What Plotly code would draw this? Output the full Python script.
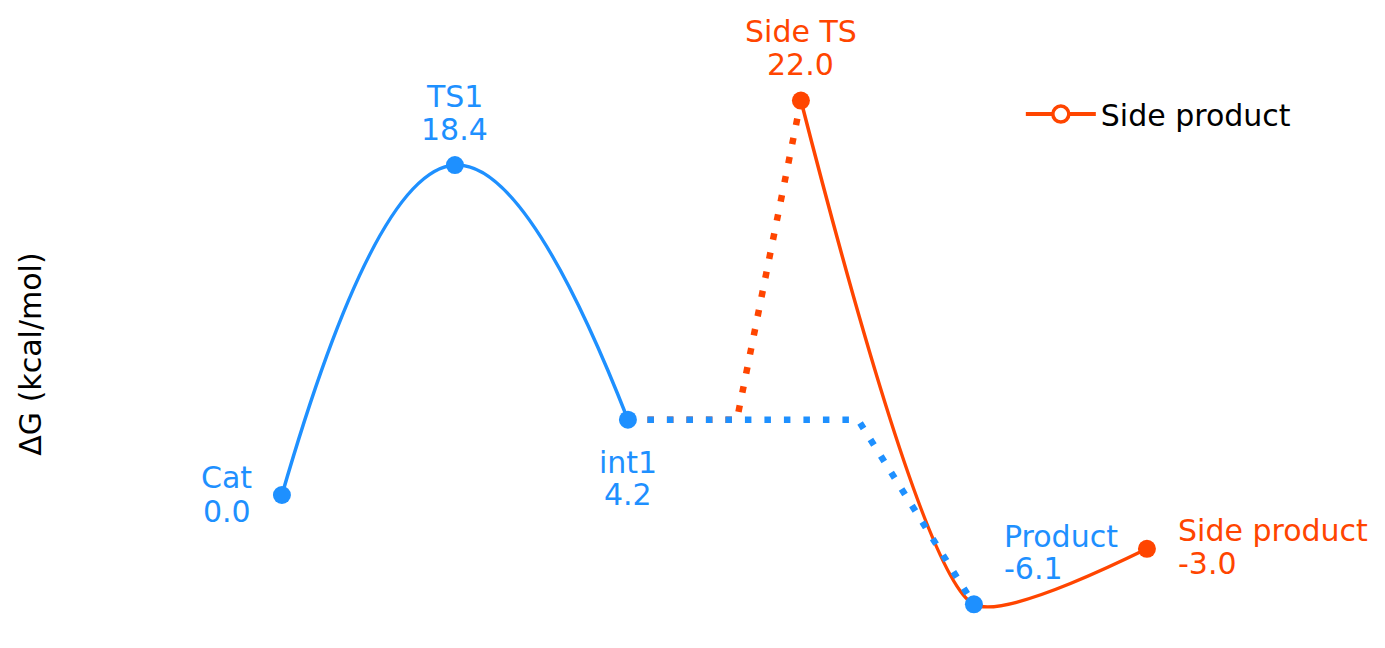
import plotly.graph_objects as go

BLUE = "#1E90FF"
ORANGE = "#FF4500"
FONT = "DejaVu Sans"

# main pathway (blue)
main_names = ["Cat", "TS1", "int1", "Product"]
main_x = [0, 1, 2, 4]
main_g = [0.0, 18.4, 4.2, -6.1]

# side pathway (orange)
side_names = ["Side TS", "Side product"]
side_x = [3, 5]
side_g = [22.0, -3.0]

# connecting path knots
main_curve_x = [0, 1, 2]
main_curve_g = [0.0, 18.4, 4.2]
main_dot_x = [2, 3.33, 4]
main_dot_g = [4.2, 4.2, -6.1]
side_dot_x = [2, 2.63, 3]
side_dot_g = [4.2, 4.2, 22.0]
side_curve_x = [3, 4, 5]
side_curve_g = [22.0, -6.1, -3.0]

fig = go.Figure()

fig.add_trace(go.Scatter(x=main_curve_x, y=main_curve_g, mode="lines",
                         line=dict(color=BLUE, width=3.5, shape="spline", smoothing=1.3),
                         showlegend=False, hoverinfo="skip"))
fig.add_trace(go.Scatter(x=side_dot_x, y=side_dot_g, mode="lines",
                         line=dict(color=ORANGE, width=6.5, dash="6.5px,13px"),
                         showlegend=False, hoverinfo="skip"))
fig.add_trace(go.Scatter(x=side_curve_x, y=side_curve_g, mode="lines",
                         line=dict(color=ORANGE, width=3.5, shape="spline", smoothing=0.6),
                         showlegend=False, hoverinfo="skip"))
fig.add_trace(go.Scatter(x=main_dot_x, y=main_dot_g, mode="lines",
                         line=dict(color=BLUE, width=6.5, dash="6.5px,13px"),
                         showlegend=False, hoverinfo="skip"))
fig.add_trace(go.Scatter(x=side_x, y=side_g, mode="markers",
                         marker=dict(color=ORANGE, size=18),
                         showlegend=False))
fig.add_trace(go.Scatter(x=main_x, y=main_g, mode="markers",
                         marker=dict(color=BLUE, size=18),
                         showlegend=False))
# legend entry
fig.add_trace(go.Scatter(x=[None], y=[None], mode="lines+markers", name="Side product",
                         line=dict(color=ORANGE, width=4),
                         marker=dict(color="white", size=16, line=dict(color=ORANGE, width=3.5))))

# labels: (name, value) placement
label_cfg = {
    "Cat": dict(xanchor="center", dx=-55, dy1=18, dy2=-16),
    "TS1": dict(xanchor="center", dx=0, dy1=69, dy2=36),
    "int1": dict(xanchor="center", dx=0, dy1=-43, dy2=-75),
    "Product": dict(xanchor="left", dx=28, dy1=68, dy2=36),
    "Side TS": dict(xanchor="center", dx=0, dy1=69, dy2=36),
    "Side product": dict(xanchor="left", dx=29, dy1=18, dy2=-15),
}

def add_label(name, x, g, color):
    c = label_cfg[name]
    fig.add_annotation(x=x, y=g, text=name, showarrow=False, xanchor=c["xanchor"],
                       yanchor="middle", xshift=c["dx"], yshift=c["dy1"],
                       font=dict(color=color, size=30, family=FONT))
    fig.add_annotation(x=x, y=g, text=f"{g:.1f}", showarrow=False, xanchor=c["xanchor"],
                       yanchor="middle", xshift=c["dx"], yshift=c["dy2"],
                       font=dict(color=color, size=30, family=FONT))

for n, x, g in zip(main_names, main_x, main_g):
    add_label(n, x, g, BLUE)
for n, x, g in zip(side_names, side_x, side_g):
    add_label(n, x, g, ORANGE)

fig.update_layout(
    width=1385, height=648,
    margin=dict(l=44, r=30, t=52, b=8),
    paper_bgcolor="white", plot_bgcolor="white",
    font=dict(family=FONT, size=30, color="black"),
    legend=dict(x=0.739, y=0.908, xanchor="left", yanchor="middle", itemwidth=70,
                bgcolor="rgba(0,0,0,0)", font=dict(size=30)),
    xaxis=dict(range=[-1.329, 6.249], visible=False, fixedrange=True),
    yaxis=dict(range=[-8.533, 24.26], showticklabels=False, showgrid=False,
               zeroline=False, showline=False, ticks="",
               title=dict(text="ΔG (kcal/mol)", font=dict(size=30), standoff=0)),
)

fig.write_html("out.html")
